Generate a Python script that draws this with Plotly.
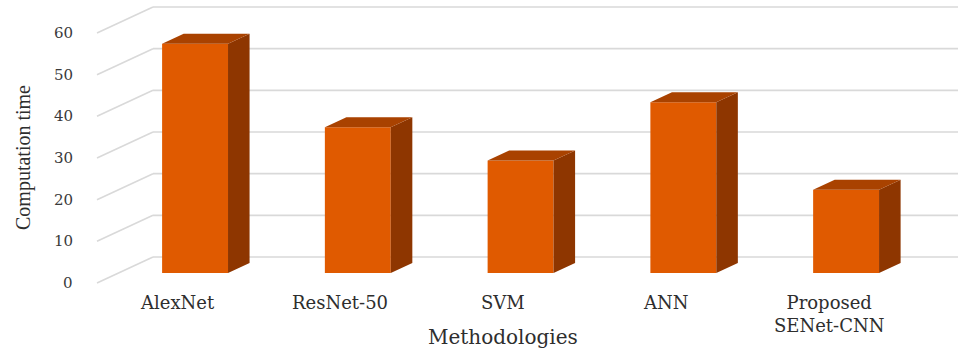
import plotly.graph_objects as go

# ---- data ----
categories = ["AlexNet", "ResNet-50", "SVM", "ANN", "Proposed<br>SENet-CNN"]
values = [55, 35, 27, 41, 20]
tick_values = [0, 10, 20, 30, 40, 50, 60]
tick_labels = ["0", "10", "20", "30", "40", "50", "60"]
x_title = "Methodologies"
y_title = "Computation time"

# ---- pseudo-3D geometry (data units) ----
DEPTH_X = -0.344      # shift in category units from back wall to front edge
DEPTH_Y = -6.24       # shift in value units from back wall to front edge
FRONT = 0.615         # depth fraction of the bar front face
BACK = 0.23           # depth fraction of the bar back face
WALL_LEFT = -0.47     # back-left corner of the chart box
BAR_W = 0.405
X_RANGE = [-1.410, 4.476]
Y_RANGE = [-24.96, 61.68]

FRONT_COL = "#E05A00"
SIDE_COL = "#8E3600"
TOP_COL = "#A94200"
GRID_COL = "#D9D9D9"

fx, fy = DEPTH_X * FRONT, DEPTH_Y * FRONT
bx, by = DEPTH_X * BACK, DEPTH_Y * BACK
pos = list(range(len(categories)))

fig = go.Figure()

# front faces
fig.add_trace(go.Bar(
    x=[p + fx for p in pos], y=values, base=fy, width=BAR_W,
    marker=dict(color=FRONT_COL, line=dict(width=0)), hoverinfo="skip"))

# side faces and top faces
sx, sy, tx, ty = [], [], [], []
for p, v in zip(pos, values):
    r_f = p + fx + BAR_W / 2
    r_b = p + bx + BAR_W / 2
    l_f = p + fx - BAR_W / 2
    l_b = p + bx - BAR_W / 2
    sx += [r_f, r_b, r_b, r_f, r_f, None]
    sy += [fy, by, v + by, v + fy, fy, None]
    tx += [l_f, r_f, r_b, l_b, l_f, None]
    ty += [v + fy, v + fy, v + by, v + by, v + fy, None]
fig.add_trace(go.Scatter(x=sx, y=sy, mode="lines", fill="toself", fillcolor=SIDE_COL,
                         line=dict(width=0, color=SIDE_COL), hoverinfo="skip"))
fig.add_trace(go.Scatter(x=tx, y=ty, mode="lines", fill="toself", fillcolor=TOP_COL,
                         line=dict(width=0, color=TOP_COL), hoverinfo="skip"))

# gridlines on back wall and left wall
shapes = []
for t in tick_values:
    shapes.append(dict(type="line", xref="x", yref="y", layer="below",
                       x0=WALL_LEFT, y0=t, x1=X_RANGE[1] + 1, y1=t,
                       line=dict(color=GRID_COL, width=1.6)))
    shapes.append(dict(type="line", xref="x", yref="y", layer="below",
                       x0=WALL_LEFT, y0=t, x1=WALL_LEFT + DEPTH_X, y1=t + DEPTH_Y,
                       line=dict(color=GRID_COL, width=1.6)))

annotations = []
for t, lab in zip(tick_values, tick_labels):
    annotations.append(dict(x=WALL_LEFT + DEPTH_X, y=t + DEPTH_Y, xref="x", yref="y",
                            text=lab, showarrow=False, xanchor="right", yanchor="middle",
                            xshift=-22, font=dict(family="DejaVu Serif", size=15, color="#3A3A3A")))
for p, c in zip(pos, categories):
    annotations.append(dict(x=p + DEPTH_X, y=DEPTH_Y, xref="x", yref="y", text=c,
                            showarrow=False, xanchor="center", yanchor="top",
                            xshift=4, yshift=-7,
                            font=dict(family="DejaVu Serif", size=18, color="#2E2E2E")))
annotations.append(dict(x=0.525, y=0.066, xref="paper", yref="paper", text=x_title,
                        showarrow=False, xanchor="center", yanchor="middle",
                        font=dict(family="DejaVu Serif", size=20, color="#2E2E2E")))
annotations.append(dict(x=0.024, y=1 - 157 / 361, xref="paper", yref="paper", text=y_title,
                        showarrow=False, textangle=-90, xanchor="center", yanchor="middle",
                        font=dict(family="Liberation Serif", size=20, color="#2E2E2E")))

fig.update_layout(
    width=958, height=361, margin=dict(l=0, r=0, t=0, b=0),
    paper_bgcolor="white", plot_bgcolor="white", showlegend=False,
    xaxis=dict(range=X_RANGE, visible=False, fixedrange=True),
    yaxis=dict(range=Y_RANGE, visible=False, fixedrange=True),
    shapes=shapes, annotations=annotations,
)

fig.write_html("out.html")
